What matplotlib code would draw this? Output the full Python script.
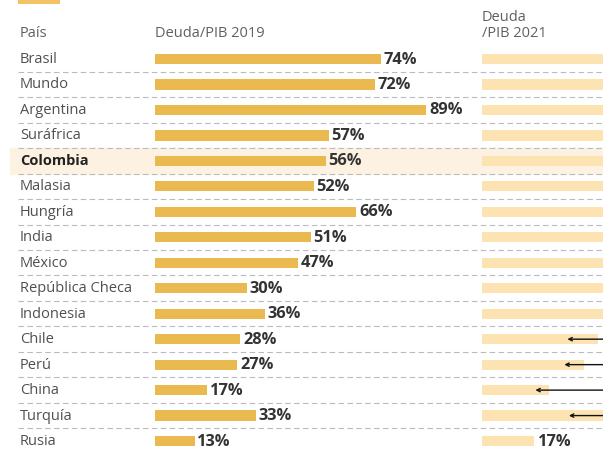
import matplotlib
matplotlib.use("Agg")
import matplotlib.pyplot as plt
from matplotlib.patches import Rectangle

plt.rcParams['font.family'] = ['Open Sans', 'DejaVu Sans']

countries = ["Brasil", "Mundo", "Argentina", "Suráfrica", "Colombia", "Malasia",
             "Hungría", "India", "México", "República Checa", "Indonesia", "Chile",
             "Perú", "China", "Turquía", "Rusia"]
debt_2019 = [74, 72, 89, 57, 56, 52, 66, 51, 47, 30, 36, 28, 27, 17, 33, 13]
debt_2021 = [91, 98, 103, 69, 65, 67, 77, 90, 58, 42, 41, 38, 33.5, 22, 45, 17]
arrow_targets = {"Chile": 28, "Perú": 27, "China": 17.5, "Turquía": 28.5}
label_2021 = {"Rusia": "17%"}
highlight = "Colombia"

W, H = 603, 450
fig = plt.figure(figsize=(W / 100, H / 100), dpi=100)

row0, step = 59, 25.47
ytop = (0 - row0) / step
ybot = (H - row0) / step

c19 = "#EAB94F"
c21 = "#FCE3B1"
chl = "#FDF2E1"
grid_c = "#B8BCC2"
txt_c = "#505050"

bg = fig.add_axes([0, 0, 1, 1])
bg.set_xlim(0, 1)
bg.set_ylim(ybot, ytop)
bg.axis("off")

n = len(countries)
hi = countries.index(highlight)
bg.axhspan(hi - 0.5, hi + 0.5, xmin=10 / W, xmax=1, color=chl, zorder=0)
for i in range(n - 1):
    bg.plot([18 / W, 1], [i + 0.5, i + 0.5], color=grid_c, lw=0.8,
            dashes=(5, 3), zorder=1)

for i, c in enumerate(countries):
    bold = c == highlight
    bg.text(20 / W, i + 0.02, c, va="center", ha="left", fontsize=10.5,
            color="#222222" if bold else txt_c,
            fontweight="bold" if bold else "normal", zorder=3)

hdr = dict(va="center", ha="left", fontsize=10.5, color="#606060")
bg.text(20 / W, -1.02, "País", **hdr)
bg.text(155 / W, -1.02, "Deuda/PIB 2019", **hdr)
bg.text(482 / W, -1.02, "/PIB 2021", **hdr)
bg.text(482 / W, -1.62, "Deuda", **hdr)

fig.add_artist(Rectangle((18 / W, 1 - 4 / H), 42 / W, 4 / H,
                         transform=fig.transFigure, color="#F2C265", lw=0))

scale = 3.05  # px per percent
ax19 = fig.add_axes([155 / W, 0, 100 * scale / W, 1])
ax21 = fig.add_axes([482 / W, 0, 100 * scale / W, 1])
for ax in (ax19, ax21):
    ax.set_xlim(0, 100)
    ax.set_ylim(ybot, ytop)
    ax.axis("off")
    ax.patch.set_alpha(0)

ypos = list(range(n))
ax19.barh(ypos, debt_2019, height=0.4, color=c19, zorder=2)
for i, v in enumerate(debt_2019):
    ax19.text(v + 0.9, i + 0.02, f"{v}%", va="center", ha="left", fontsize=11.8,
              fontweight="bold", color="#333333", zorder=3)

ax21.barh(ypos, debt_2021, height=0.4, color=c21, zorder=2)
for i, c in enumerate(countries):
    if c in label_2021:
        ax21.text(debt_2021[i] + 1.5, i + 0.02, label_2021[c], va="center", ha="left",
                  fontsize=11.8, fontweight="bold", color="#333333", zorder=3)
    if c in arrow_targets:
        ax21.annotate("", xy=(arrow_targets[c], i), xytext=(60, i),
                      arrowprops=dict(arrowstyle="->", color="#111111", lw=1.0,
                                      shrinkA=0, shrinkB=0, mutation_scale=6),
                      zorder=4)

fig.savefig("out.png", dpi=100)
